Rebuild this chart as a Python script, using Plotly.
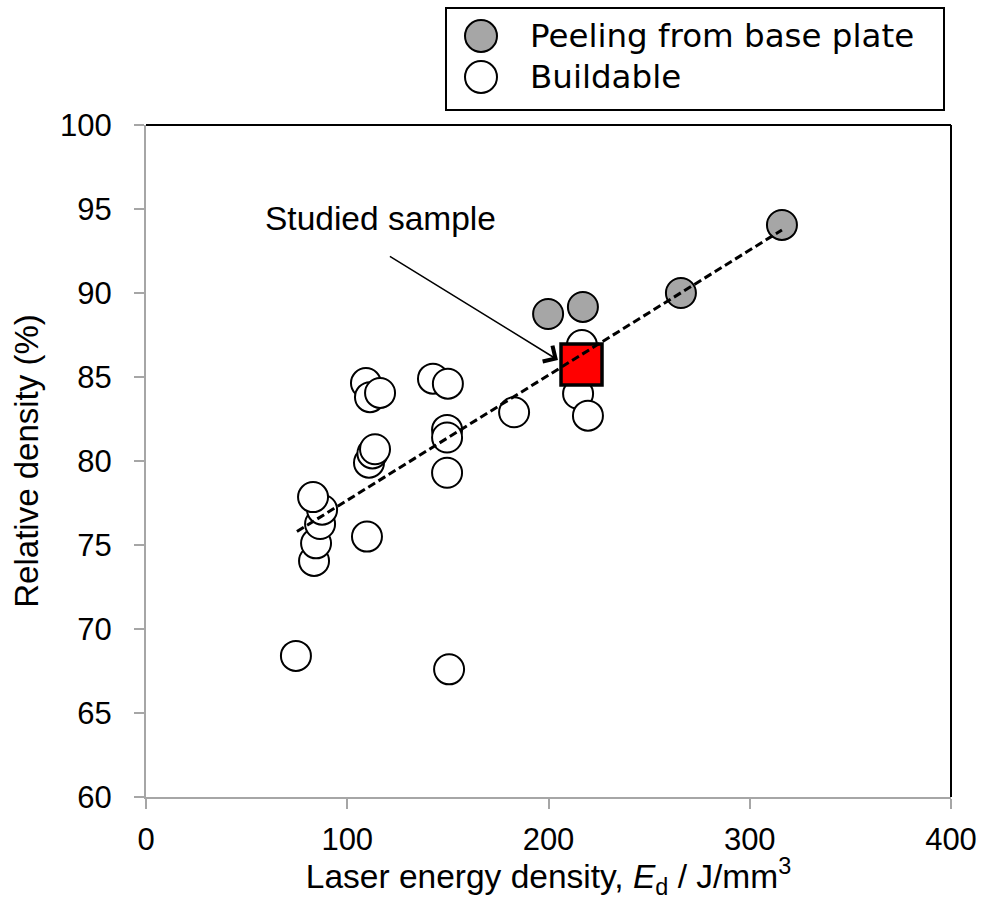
import plotly.graph_objects as go

# Data
build_x = [74.5, 150.6, 83.5, 84.5, 86.5, 87.5, 83.0, 109.8, 110.8, 112.5, 113.8,
           109.3, 111.3, 116.3, 142.6, 150.0, 149.6, 149.6, 149.6, 182.9, 216.6,
           214.7, 219.6]
build_y = [68.4, 67.6, 74.05, 75.1, 76.25, 77.1, 77.85, 75.5, 79.9, 80.45, 80.7,
           84.64, 83.8, 84.05, 84.9, 84.6, 81.85, 81.4, 79.3, 82.9, 86.9,
           84.0, 82.7]
peel_x = [199.8, 217.1, 265.8, 316.0]
peel_y = [88.75, 89.17, 90.0, 94.05]
studied_x = [216.4]
studied_y = [85.74]
trend_x = [75, 316]
trend_y = [75.8, 93.75]

x_ticks = [0, 100, 200, 300, 400]
y_ticks = [60, 65, 70, 75, 80, 85, 90, 95, 100]

AX_GRAY = "#a6a6a6"
ARIAL = "Liberation Sans, Arial, sans-serif"
TICKFONT = dict(family=ARIAL, size=31, color="black")
LEGFONT = dict(family="DejaVu Sans, Verdana, sans-serif", size=32.5, color="black")

fig = go.Figure()
fig.add_trace(go.Scatter(x=build_x, y=build_y, mode="markers", name="Buildable",
                         marker=dict(symbol="circle", size=30, color="white",
                                     line=dict(color="black", width=2)),
                         showlegend=False))
fig.add_trace(go.Scatter(x=peel_x, y=peel_y, mode="markers", name="Peeling from base plate",
                         marker=dict(symbol="circle", size=30, color="#a6a6a6",
                                     line=dict(color="black", width=2)),
                         showlegend=False))
fig.add_trace(go.Scatter(x=studied_x, y=studied_y, mode="markers", name="Studied sample",
                         marker=dict(symbol="square", size=41, color="#ff0000",
                                     line=dict(color="black", width=3.5)),
                         showlegend=False))
fig.add_trace(go.Scatter(x=trend_x, y=trend_y, mode="lines", name="trend",
                         line=dict(color="black", width=3, dash="8px,4px"),
                         showlegend=False))

# Annotation text and arrow
fig.add_annotation(x=116.3, y=94.46, xref="x", yref="y", text="Studied sample",
                   showarrow=False, font=dict(family=ARIAL, size=33.5, color="black"))
fig.add_annotation(x=204.7, y=86.01, xref="x", yref="y", ax=120.2, ay=92.26,
                   axref="x", ayref="y", text=" ", showarrow=True, arrowhead=4,
                   arrowsize=2.4, arrowwidth=1.5, arrowcolor="black", standoff=0,
                   font=dict(size=2))

# Top and right frame (black)
fig.add_shape(type="line", xref="paper", yref="paper", x0=0, x1=1, y0=1, y1=1,
              line=dict(color="black", width=2))
fig.add_shape(type="line", xref="paper", yref="paper", x0=1, x1=1, y0=0, y1=1,
              line=dict(color="black", width=2))

# Custom legend (box, symbols, labels)
L, T = 146, 125
W, H = 984 - 33 - L, 672
def px(xp):
    return (xp - L) / W
def py(yp):
    return (T + H - yp) / H

fig.add_shape(type="rect", xref="paper", yref="paper", x0=px(446), x1=px(944),
              y0=py(110), y1=py(8), line=dict(color="black", width=2), fillcolor="white")
legend_items = [("Peeling from base plate", "#a6a6a6", 36), ("Buildable", "white", 77)]
for label, col, yc in legend_items:
    fig.add_shape(type="circle", xref="paper", yref="paper",
                  xsizemode="pixel", ysizemode="pixel",
                  xanchor=px(481), yanchor=py(yc), x0=-16, x1=16, y0=-16, y1=16,
                  line=dict(color="black", width=2), fillcolor=col)
    fig.add_annotation(x=px(528), y=py(yc), xref="paper", yref="paper", text=label,
                       showarrow=False, xanchor="left", yanchor="middle", font=LEGFONT)

fig.update_layout(
    width=984, height=900,
    margin=dict(l=L, r=984 - L - W, t=T, b=900 - T - H),
    plot_bgcolor="white", paper_bgcolor="white",
    showlegend=False,
)
fig.update_xaxes(range=[0, 400], tickvals=x_ticks, ticktext=[str(v) for v in x_ticks],
                 automargin=False,
                 showgrid=False, zeroline=False, showline=True, linecolor=AX_GRAY, linewidth=2,
                 ticks="outside", ticklen=10, tickwidth=1.5, tickcolor=AX_GRAY,
                 tickfont=TICKFONT, ticklabelstandoff=4,
                 title=dict(text="Laser energy density, <i>E</i><sub>d</sub> / J/mm<sup>3</sup>",
                            font=dict(family=ARIAL, size=33.5, color="black"), standoff=8))
fig.update_yaxes(range=[60, 100], tickvals=y_ticks, ticktext=[str(v) for v in y_ticks],
                 automargin=False,
                 showgrid=False, zeroline=False, showline=True, linecolor=AX_GRAY, linewidth=2,
                 ticks="outside", ticklen=10, tickwidth=1.5, tickcolor=AX_GRAY,
                 tickfont=TICKFONT, ticklabelstandoff=16,
                 title=dict(text="Relative density (%)",
                            font=dict(family=ARIAL, size=33, color="black"), standoff=12))

fig.write_html("out.html")
